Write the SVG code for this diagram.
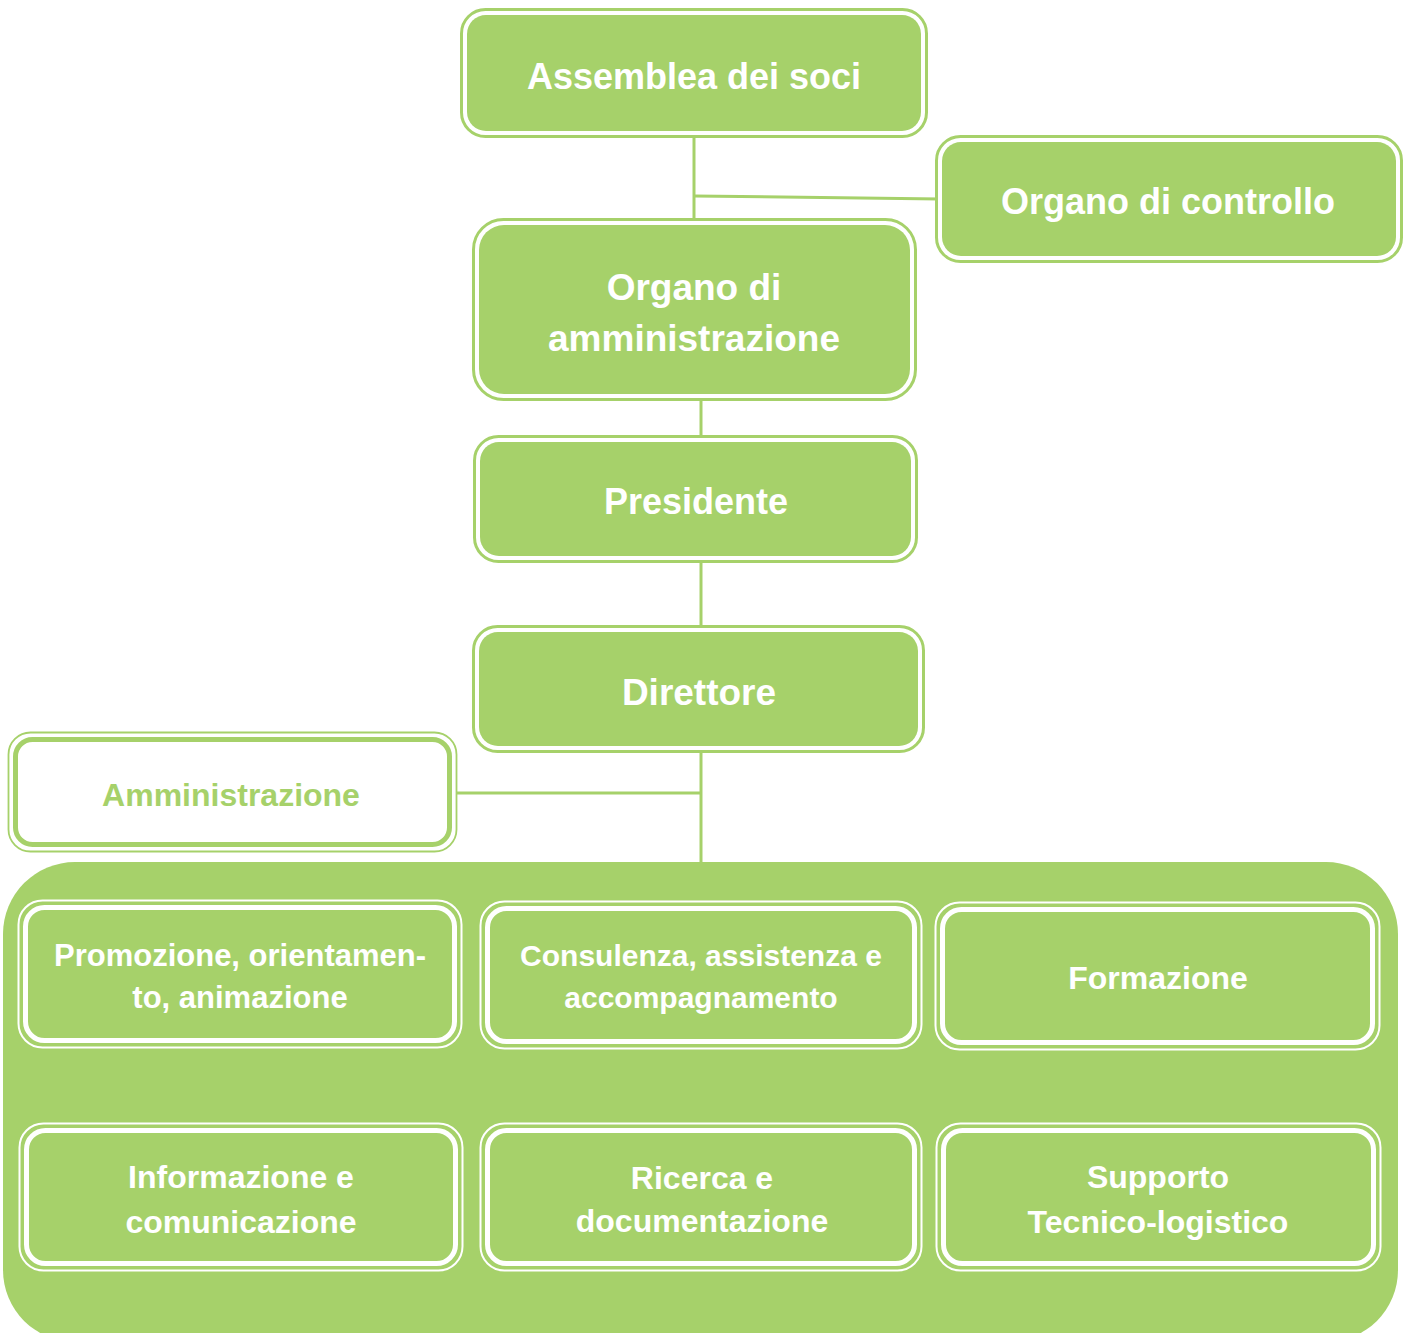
<svg xmlns="http://www.w3.org/2000/svg" width="1407" height="1333" viewBox="0 0 1407 1333">
<style>
.t{font-family:"Liberation Sans",Arial,sans-serif;font-weight:bold;text-anchor:middle}
.w{fill:#fff}
.g{fill:#A6D16A}
.o1{fill:#fff;stroke:#A6D16A;stroke-width:3}
.i1{fill:#A6D16A}
.o2{fill:none;stroke:#fff;stroke-width:2}
.i2{fill:#A6D16A;stroke:#fff;stroke-width:5}
.o3{fill:#fff;stroke:#A6D16A;stroke-width:1.8}
.i3{fill:#fff;stroke:#A6D16A;stroke-width:5}
.c{stroke:#A6D16A;stroke-width:3;fill:none}
</style>
<rect id="container" x="3" y="862" width="1395" height="480" rx="72" fill="#A6D16A"/>
<g id="connectors">
<line class="c" x1="694" y1="135" x2="694" y2="222"/>
<line class="c" x1="694" y1="196" x2="940" y2="199"/>
<line class="c" x1="701" y1="398" x2="701" y2="438"/>
<line class="c" x1="701" y1="560" x2="701" y2="628"/>
<line class="c" x1="701" y1="750" x2="701" y2="864"/>
<line class="c" x1="453" y1="793" x2="701" y2="793"/>
</g>
<g id="assemblea">
<rect class="o1" x="461.5" y="9.5" width="465" height="127" rx="24"/>
<rect class="i1" x="467" y="15" width="454" height="116" rx="19"/>
<text class="t w" x="694" y="89" font-size="36">Assemblea dei soci</text>
</g>
<g id="controllo">
<rect class="o1" x="936.5" y="136.5" width="465" height="125" rx="24"/>
<rect class="i1" x="942" y="142" width="454" height="114" rx="19"/>
<text class="t w" x="1168" y="214" font-size="36">Organo di controllo</text>
</g>
<g id="amministrazione-organo">
<rect class="o1" x="473.5" y="219.5" width="442" height="180" rx="30"/>
<rect class="i1" x="479" y="225" width="431" height="169" rx="25"/>
<text class="t w" x="694" y="300" font-size="37">Organo di</text>
<text class="t w" x="694" y="351" font-size="37">amministrazione</text>
</g>
<g id="presidente">
<rect class="o1" x="474.5" y="436.5" width="442" height="125" rx="24"/>
<rect class="i1" x="480" y="442" width="431" height="114" rx="19"/>
<text class="t w" x="696" y="514" font-size="36">Presidente</text>
</g>
<g id="direttore">
<rect class="o1" x="473.5" y="626.5" width="450" height="125" rx="24"/>
<rect class="i1" x="479" y="632" width="439" height="114" rx="19"/>
<text class="t w" x="699" y="705" font-size="37">Direttore</text>
</g>
<g id="amministrazione">
<rect class="o3" x="8.5" y="732.5" width="448" height="119" rx="22"/>
<rect class="i3" x="15.5" y="739.5" width="434" height="105" rx="17"/>
<text class="t g" x="231" y="806" font-size="32">Amministrazione</text>
</g>
<g id="promozione">
<rect class="o2" x="18.5" y="900.5" width="443" height="147" rx="24"/>
<rect class="i2" x="25.5" y="907.5" width="429" height="133" rx="19"/>
<text class="t w" x="240" y="966" font-size="31">Promozione, orientamen-</text>
<text class="t w" x="240" y="1008" font-size="31">to, animazione</text>
</g>
<g id="consulenza">
<rect class="o2" x="480.5" y="901.5" width="441" height="147" rx="24"/>
<rect class="i2" x="487.5" y="908.5" width="427" height="133" rx="19"/>
<text class="t w" x="701" y="966" font-size="30">Consulenza, assistenza e</text>
<text class="t w" x="701" y="1008" font-size="30">accompagnamento</text>
</g>
<g id="formazione">
<rect class="o2" x="935.5" y="902.5" width="444" height="147" rx="24"/>
<rect class="i2" x="942.5" y="909.5" width="430" height="133" rx="19"/>
<text class="t w" x="1158" y="989" font-size="32">Formazione</text>
</g>
<g id="informazione">
<rect class="o2" x="19.5" y="1123.5" width="443" height="147" rx="24"/>
<rect class="i2" x="26.5" y="1130.5" width="429" height="133" rx="19"/>
<text class="t w" x="241" y="1188" font-size="32">Informazione e</text>
<text class="t w" x="241" y="1233" font-size="32">comunicazione</text>
</g>
<g id="ricerca">
<rect class="o2" x="480.5" y="1123.5" width="441" height="147" rx="24"/>
<rect class="i2" x="487.5" y="1130.5" width="427" height="133" rx="19"/>
<text class="t w" x="702" y="1189" font-size="32">Ricerca e</text>
<text class="t w" x="702" y="1232" font-size="32">documentazione</text>
</g>
<g id="supporto">
<rect class="o2" x="936.5" y="1123.5" width="444" height="147" rx="24"/>
<rect class="i2" x="943.5" y="1130.5" width="430" height="133" rx="19"/>
<text class="t w" x="1158" y="1188" font-size="32">Supporto</text>
<text class="t w" x="1158" y="1233" font-size="32">Tecnico-logistico</text>
</g>
</svg>
